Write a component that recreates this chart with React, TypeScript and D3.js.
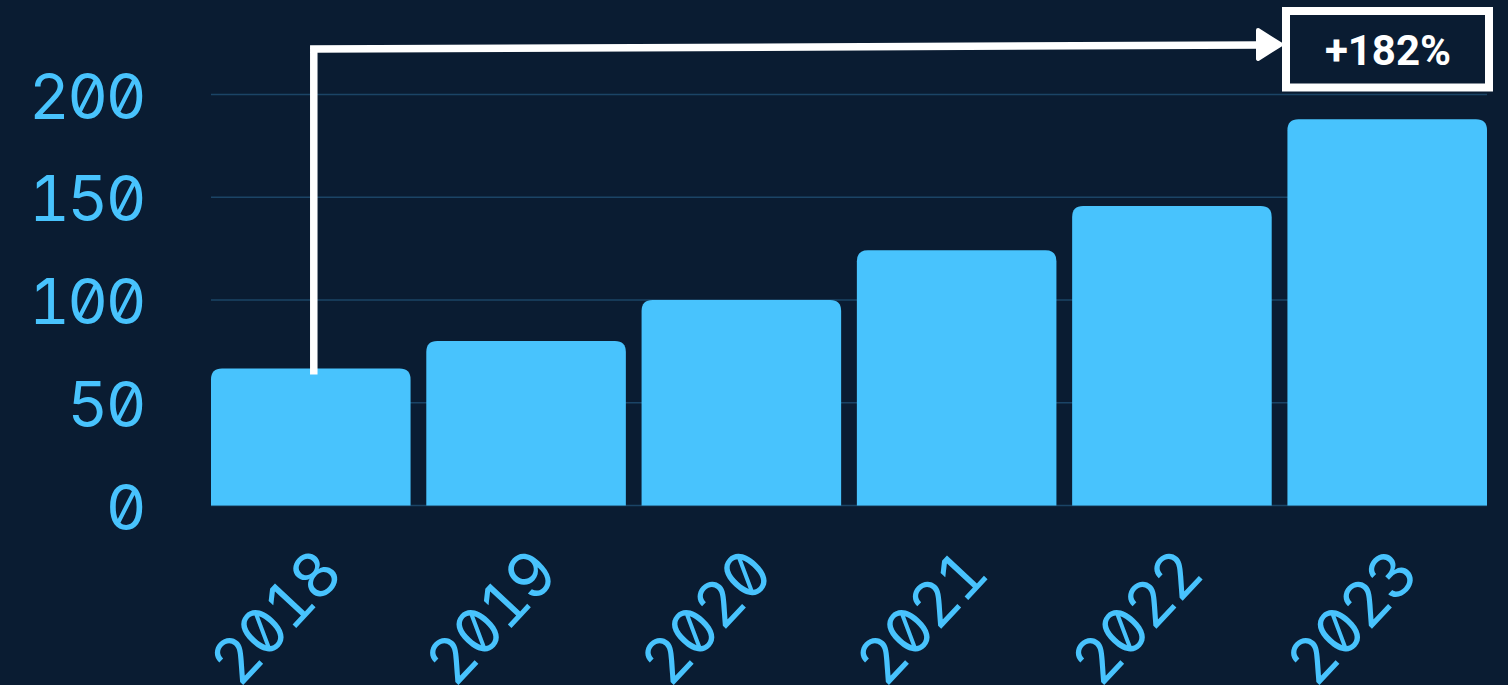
import React from "react";
import * as d3 from "d3";

const years = ["2018", "2019", "2020", "2021", "2022", "2023"];
const values = [66.7, 80, 100, 124.2, 145.8, 188];
const yTicks = [0, 50, 100, 150, 200];
const growthLabel = "+182%";

const W = 1508;
const H = 685;
const BG = "#0a1c32";
const BAR = "#48c3fd";
const GRID = "#1b4466";
const MONO: React.CSSProperties = {
  fontFamily: "Inter, 'DejaVu Sans Mono', monospace",
  fontFeatureSettings: "'zero' 1, 'tnum' 1",
  fontVariantNumeric: "tabular-nums slashed-zero",
};

function topRoundedRect(x: number, y: number, w: number, h: number, r: number) {
  const rr = Math.min(r, h, w / 2);
  return `M${x},${y + h}V${y + rr}Q${x},${y} ${x + rr},${y}H${x + w - rr}Q${x + w},${y} ${x + w},${y + rr}V${y + h}Z`;
}

export default function App() {
  const x = d3.scaleBand<string>().domain(years).range([211, 1487]).paddingInner(0.073).paddingOuter(0);
  const y = d3.scaleLinear().domain([0, 200]).range([505.5, 94.5]);

  const startX = (x(years[0]) as number) + x.bandwidth() / 2 + 3;
  const startY = y(values[0]) + 6;
  const cornerY = 49;
  const tipX = 1281;
  const tipY = 44.5;
  const headLen = 23;
  const headHalf = 14.5;

  return (
    <svg width={W} height={H} style={{ position: "absolute", left: 0, top: 0, display: "block" }}>
      <rect x={0} y={0} width={W} height={H} fill={BG} />
      {yTicks.map((t) => (
        <line key={"g" + t} x1={211} x2={1487} y1={y(t)} y2={y(t)} stroke={GRID} strokeWidth={1.5} />
      ))}
      {yTicks.map((t) => (
        <text
          key={"t" + t}
          x={144}
          y={y(t) + 24}
          textAnchor="end"
          fill={BAR}
          style={MONO}
          fontSize={63}
          letterSpacing={-2.5}
        >
          {t}
        </text>
      ))}
      {years.map((yr, i) => {
        const bx = x(yr) as number;
        const by = y(values[i]);
        return (
          <path key={yr} d={topRoundedRect(bx, by, x.bandwidth(), y(0) - by, 11)} fill={BAR} />
        );
      })}
      {years.map((yr) => {
        const cx = (x(yr) as number) + x.bandwidth() / 2 + 33;
        const cy = 577;
        return (
          <text
            key={"x" + yr}
            x={cx}
            y={cy}
            transform={`rotate(-47 ${cx} ${cy})`}
            textAnchor="end"
            fill={BAR}
            style={MONO}
            fontSize={63}
            letterSpacing={-2.5}
          >
            {yr}
          </text>
        );
      })}
      <path
        d={`M${startX},${startY}V${cornerY}L${tipX - headLen + 2},${tipY + 0.6}`}
        fill="none"
        stroke="#ffffff"
        strokeWidth={7.5}
      />
      <path
        d={`M${tipX - headLen},${tipY - headHalf}L${tipX},${tipY}L${tipX - headLen},${tipY + headHalf}Z`}
        fill="#ffffff"
        stroke="#ffffff"
        strokeWidth={4}
        strokeLinejoin="round"
      />
      <rect x={1286} y={11} width={203} height={76.5} fill={BG} stroke="#ffffff" strokeWidth={8} />
      <text
        x={1388}
        y={65}
        textAnchor="middle"
        fill="#ffffff"
        fontFamily="Roboto, sans-serif"
        fontWeight={700}
        fontSize={42}
      >
        {growthLabel}
      </text>
    </svg>
  );
}
